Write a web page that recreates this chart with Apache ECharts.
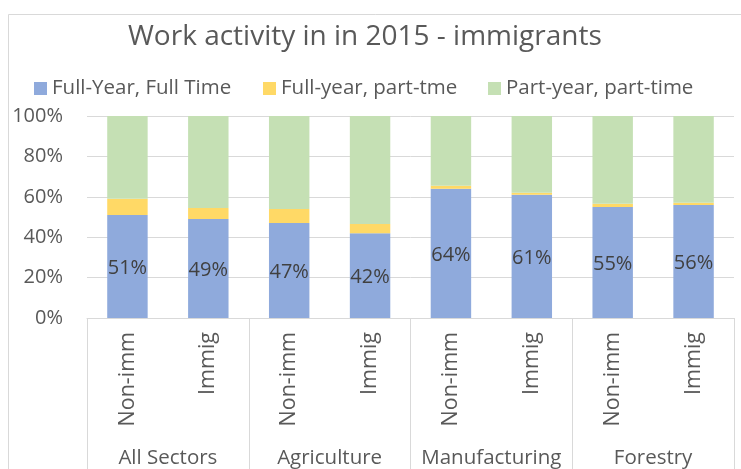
<!DOCTYPE html>
<html>
<head>
<meta charset="utf-8">
<script src="https://cdn.jsdelivr.net/npm/echarts@6/dist/echarts.min.js"></script>
<style>
  html, body { margin: 0; padding: 0; background: #fff; }
  #chart { width: 741px; height: 469px; }
</style>
</head>
<body>
<div id="chart"></div>
<script>
// Work activity shares by sector, non-immigrants vs immigrants (2015)
const categories = ['Non-imm', 'Immig', 'Non-imm', 'Immig', 'Non-imm', 'Immig', 'Non-imm', 'Immig'];
const sectors = ['All Sectors', 'Agriculture', 'Manufacturing', 'Forestry'];
const fullYearFullTime = [51, 49, 47, 42, 64, 61, 55, 56];
const fullYearPartTime = [8, 5.5, 7, 4.5, 1.5, 1, 1.5, 1];
const partYearPartTime = [41, 45.5, 46, 53.5, 34.5, 38, 43.5, 43];
const percentTicks = [0, 20, 40, 60, 80, 100];

const FONT = 'Open Sans';
const gridColor = '#d9d9d9';
const textColor = '#595959';

const chart = echarts.init(document.getElementById('chart'));

function legendFor(name, left) {
  return {
    data: [name], left: left, top: 73, itemWidth: 13, itemHeight: 13, itemGap: 5,
    icon: 'rect',
    textStyle: { fontFamily: FONT, fontSize: 20.5, color: textColor, padding: [0, 0, 0, 0] }
  };
}

chart.setOption({
  animation: false,
  backgroundColor: '#fff',
  graphic: [{
    type: 'rect', left: 6, top: 12, silent: true,
    shape: { width: 800, height: 500 },
    style: { fill: 'none', stroke: gridColor, lineWidth: 1 }
  }],
  title: {
    text: 'Work activity in in 2015 - immigrants',
    left: 123, top: 18,
    textStyle: { fontFamily: FONT, fontSize: 28, fontWeight: 'normal', color: textColor }
  },
  legend: [
    legendFor('Full-Year, Full Time', 29),
    legendFor('Full-year, part-tme', 258),
    legendFor('Part-year, part-time', 483)
  ],
  grid: { left: 87, right: 7, top: 116, bottom: 151, containLabel: false },
  xAxis: [{
    type: 'category', data: categories, position: 'bottom',
    axisLine: { show: true, lineStyle: { color: gridColor, width: 1 } },
    axisTick: { show: false },
    axisLabel: { rotate: 90, margin: 14, interval: 0, fontFamily: FONT, fontSize: 21.5, color: textColor }
  }, {
    type: 'category', data: sectors, position: 'bottom',
    axisLine: { show: false },
    axisTick: { show: true, interval: 0, length: 160, lineStyle: { color: gridColor, width: 1 } },
    axisLabel: { margin: 130, interval: 0, fontFamily: FONT, fontSize: 20.5, color: textColor }
  }],
  yAxis: {
    type: 'value', min: percentTicks[0], max: percentTicks[percentTicks.length - 1], interval: 20,
    axisLine: { show: false }, axisTick: { show: false },
    splitLine: { lineStyle: { color: gridColor, width: 1 } },
    axisLabel: { margin: 24, fontFamily: FONT, fontSize: 20, color: textColor, formatter: '{value}%' }
  },
  series: [{
    name: 'Full-Year, Full Time', type: 'bar', stack: 'share', data: fullYearFullTime,
    barWidth: '50%', itemStyle: { color: '#8faadc' },
    label: { show: true, position: 'inside', offset: [0, 2], formatter: '{c}%', fontFamily: FONT, fontSize: 20, color: '#404040' }
  }, {
    name: 'Full-year, part-tme', type: 'bar', stack: 'share', data: fullYearPartTime,
    barWidth: '50%', itemStyle: { color: '#ffd966' }
  }, {
    name: 'Part-year, part-time', type: 'bar', stack: 'share', data: partYearPartTime,
    barWidth: '50%', itemStyle: { color: '#c5e0b4' }
  }]
});
</script>
</body>
</html>
